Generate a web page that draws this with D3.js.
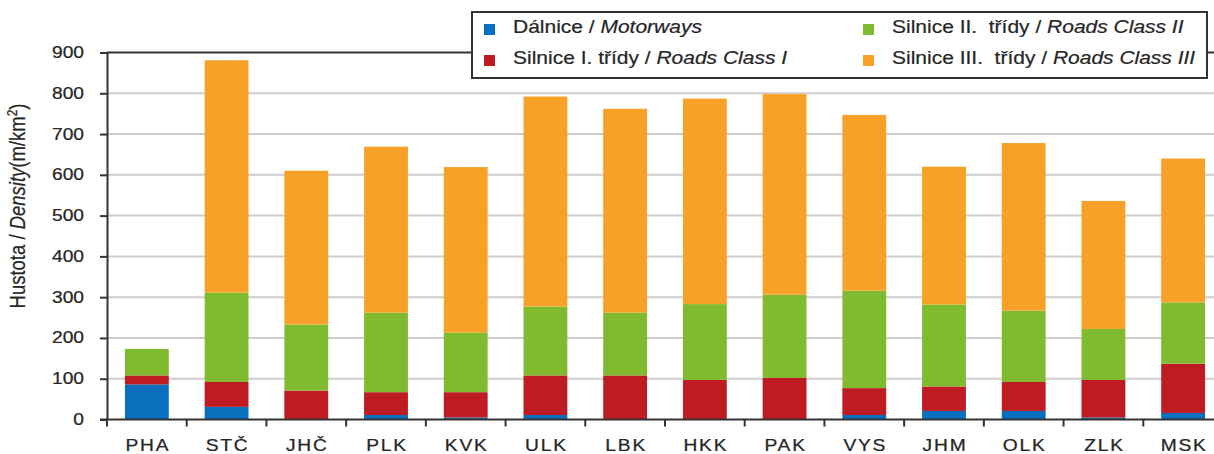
<!DOCTYPE html>
<html>
<head>
<meta charset="utf-8">
<script src="https://cdn.jsdelivr.net/npm/d3@7"></script>
<style>
  html, body { margin: 0; padding: 0; background: #fff; }
  svg { display: block; font-family: "Liberation Sans", Arial, sans-serif; }
  text { white-space: pre; }
</style>
</head>
<body>
<svg id="chart" width="1214" height="454"></svg>
<script>
// Road network density by region (m/km²), stacked by road class
const regions = ["PHA", "STČ", "JHČ", "PLK", "KVK", "ULK", "LBK", "HKK", "PAK", "VYS", "JHM", "OLK", "ZLK", "MSK"];
const motorways = [86, 31, 0, 11, 5, 11, 0, 0, 0, 11, 21, 21, 5, 16];
const roadsClassI = [22, 61, 71, 56, 62, 97, 108, 97, 102, 66, 60, 71, 92, 121];
const roadsClassII = [65, 219, 162, 195, 146, 169, 154, 186, 204, 239, 201, 175, 125, 150];
const roadsClassIII = [0, 570, 377, 407, 406, 515, 500, 504, 492, 431, 338, 411, 314, 353];
const yTicks = [0, 100, 200, 300, 400, 500, 600, 700, 800, 900];

const seriesKeys = ["motorways", "classI", "classII", "classIII"];
const seriesColors = {
  motorways: "#0a6fbd",
  classI: "#be1b22",
  classII: "#80ba2e",
  classIII: "#f7a128"
};
const legendItems = [
  { key: "motorways", cz: "Dálnice / ", en: "Motorways", col: 0, row: 0 },
  { key: "classI", cz: "Silnice I. třídy / ", en: "Roads Class I", col: 0, row: 1 },
  { key: "classII", cz: "Silnice II.  třídy / ", en: "Roads Class II", col: 1, row: 0 },
  { key: "classIII", cz: "Silnice III.  třídy / ", en: "Roads Class III", col: 1, row: 1 }
];

const rows = regions.map((r, i) => ({
  region: r,
  motorways: motorways[i],
  classI: roadsClassI[i],
  classII: roadsClassII[i],
  classIII: roadsClassIII[i]
}));

const textColor = "#262626";
const wide = 1.2; // horizontal widening applied to all labels

const svg = d3.select("#chart");
const left = 107, zeroY = 419.5, topY = 52.5, bandEnd = 1223;

const x = d3.scaleBand()
  .domain(regions)
  .range([left, bandEnd])
  .paddingInner(0.45)
  .paddingOuter(0.225);

const y = d3.scaleLinear().domain([0, 900]).range([zeroY, topY]);

// horizontal gridlines
svg.append("g")
  .selectAll("line")
  .data(yTicks.filter(t => t > 0 && t < 900))
  .join("line")
  .attr("x1", left).attr("x2", 1214)
  .attr("y1", d => y(d)).attr("y2", d => y(d))
  .attr("stroke", "#cdcdcd")
  .attr("stroke-width", 2);

// stacked bars
const stack = d3.stack().keys(seriesKeys)(rows);
svg.append("g")
  .selectAll("g")
  .data(stack)
  .join("g")
  .attr("fill", d => seriesColors[d.key])
  .selectAll("rect")
  .data(d => d)
  .join("rect")
  .attr("x", d => x(d.data.region))
  .attr("width", x.bandwidth())
  .attr("y", d => y(d[1]))
  .attr("height", d => Math.max(0, y(d[0]) - y(d[1])));

// plot frame top edge
svg.append("line")
  .attr("x1", left).attr("x2", 1214)
  .attr("y1", topY).attr("y2", topY)
  .attr("stroke", "#333").attr("stroke-width", 2);

// y axis (line and ticks)
const yAxis = d3.axisLeft(y).tickValues(yTicks).tickSize(7).tickSizeOuter(0).tickFormat("");
const gy = svg.append("g").attr("transform", `translate(${left},0)`).call(yAxis);
gy.select(".domain").attr("stroke", "#333").attr("stroke-width", 2);
gy.selectAll(".tick line").attr("stroke", "#333").attr("stroke-width", 2);

// y tick labels
svg.append("g")
  .selectAll("text")
  .data(yTicks)
  .join("text")
  .attr("transform", d => `translate(84,${y(d) + 5.5}) scale(${wide},1)`)
  .attr("text-anchor", "end")
  .attr("font-size", 16)
  .attr("fill", textColor)
  .attr("stroke", textColor).attr("stroke-width", 0.25)
  .text(d => d);

// x axis with ticks on band boundaries
svg.append("line")
  .attr("x1", left - 7).attr("x2", 1214)
  .attr("y1", zeroY).attr("y2", zeroY)
  .attr("stroke", "#333").attr("stroke-width", 2);

const boundaries = regions.map(r => x(r) - x.step() * x.paddingInner() / 2);
svg.append("g")
  .selectAll("line")
  .data(boundaries)
  .join("line")
  .attr("x1", d => d).attr("x2", d => d)
  .attr("y1", zeroY).attr("y2", zeroY + 7)
  .attr("stroke", "#333").attr("stroke-width", 2);

svg.append("g")
  .selectAll("text")
  .data(regions)
  .join("text")
  .attr("transform", d => `translate(${x(d) + x.bandwidth() / 2 + 1},451) scale(${wide},1)`)
  .attr("text-anchor", "middle")
  .attr("font-size", 16)
  .attr("letter-spacing", 1.5)
  .attr("fill", textColor)
  .attr("stroke", textColor).attr("stroke-width", 0.25)
  .text(d => d);

// y axis title
const title = svg.append("text")
  .attr("transform", "translate(25,206) rotate(-90) scale(1,1.15)")
  .attr("text-anchor", "middle")
  .attr("font-size", 18.5)
  .attr("fill", textColor)
  .attr("stroke", textColor).attr("stroke-width", 0.2);
title.append("tspan").text("Hustota / ");
title.append("tspan").attr("font-style", "italic").text("Density");
title.append("tspan").text("(m/km");
title.append("tspan").attr("font-size", 12).attr("dy", -7).text("2");
title.append("tspan").attr("dy", 7).text(")");

// legend
const lg = svg.append("g");
lg.append("rect")
  .attr("x", 472).attr("y", 12)
  .attr("width", 735).attr("height", 66)
  .attr("fill", "#fff")
  .attr("stroke", "#333").attr("stroke-width", 2);

const colX = [484, 863], rowY = [27, 58];
const entry = lg.selectAll("g.entry")
  .data(legendItems)
  .join("g")
  .attr("class", "entry")
  .attr("transform", d => `translate(${colX[d.col]},${rowY[d.row]})`);

entry.append("rect")
  .attr("x", 0).attr("y", -3)
  .attr("width", 11).attr("height", 11)
  .attr("fill", d => seriesColors[d.key]);

const lt = entry.append("text")
  .attr("transform", `translate(29,6) scale(${wide},1)`)
  .attr("font-size", 17.5)
  .attr("fill", textColor)
  .attr("stroke", textColor).attr("stroke-width", 0.2);
lt.append("tspan").text(d => d.cz);
lt.append("tspan").attr("font-style", "italic").text(d => d.en);
</script>
</body>
</html>
